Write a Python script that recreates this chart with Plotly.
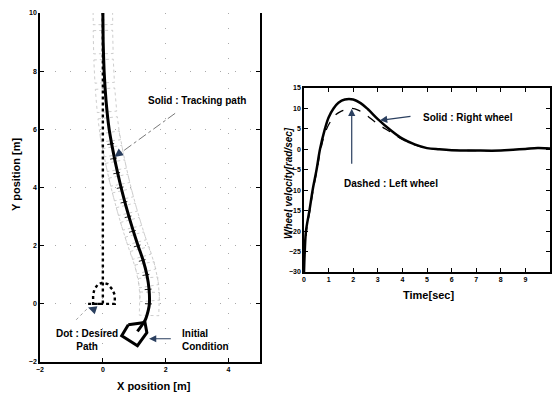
import numpy as np
import plotly.graph_objects as go

# ---------------- data: left plot (trajectory) ----------------
path_x = [1.10, 1.35, 1.45, 1.48, 1.47, 1.40, 1.28, 1.12, 0.97, 0.83, 0.70, 0.58, 0.47, 0.37, 0.28, 0.20, 0.10, 0.04, 0.01, 0.00]
path_y = [-0.95, -0.55, -0.20, 0.00, 0.50, 1.00, 1.50, 2.00, 2.50, 3.00, 3.50, 4.00, 4.50, 5.00, 5.50, 6.00, 7.00, 8.00, 9.00, 10.0]

desired_x = [-0.47, -0.31, 0.38, 0.38, 0.30, 0.15, 0.00, -0.15, -0.27, -0.31, -0.31, 0.00, 0.00]
desired_y = [0.00, 0.00, 0.00, 0.30, 0.50, 0.68, 0.73, 0.68, 0.50, 0.30, 0.00, 0.00, 10.0]

init_x = [0.81, 1.34, 1.40, 1.10, 0.60, 0.81]
init_y = [-0.72, -0.64, -0.99, -1.44, -1.10, -0.72]

# ---------------- data: right plot (wheel velocities) ----------------
t_right = [0, 0.03, 0.08, 0.22, 0.35, 0.51, 0.65, 0.85, 1.0, 1.2, 1.4, 1.66, 2.0, 2.3, 2.6, 3.0, 3.5, 4.0, 4.5, 5.0, 5.5, 6.0, 7.0, 8.0, 8.5, 9.0, 9.5, 10.0]
v_right = [-30, -25, -20, -15, -10, -5, 0, 5, 7.8, 10.0, 11.4, 12.2, 12.2, 11.3, 9.8, 7.4, 4.8, 2.6, 1.2, 0.3, 0.0, -0.2, -0.3, -0.3, -0.1, 0.1, 0.3, 0.2]
t_left = [0, 0.04, 0.10, 0.24, 0.37, 0.53, 0.68, 0.92, 1.26, 1.5, 1.75, 1.93, 2.2, 2.5, 3.0, 3.5, 4.0, 4.5, 5.0, 5.5, 6.0, 7.0, 8.0, 8.5, 9.0, 9.5, 10.0]
v_left = [-30, -25, -20, -15, -10, -5, 0, 5, 8.3, 9.3, 9.8, 10.0, 9.6, 8.5, 6.2, 4.3, 2.4, 1.1, 0.3, 0.0, -0.2, -0.3, -0.3, -0.1, 0.1, 0.3, 0.2]

left_xticks = [-2, 0, 2, 4]
left_yticks = [-2, 0, 2, 4, 6, 8, 10]
right_xticks = list(range(0, 11))
right_yticks = list(range(-30, 16, 5))

# ---------------- derived robot footprints / axle ticks ----------------
px = np.array(path_x)
py = np.array(path_y)
dx = np.gradient(px)
dy = np.gradient(py)
nrm = np.hypot(dx, dy)
ux, uy = dx / nrm, dy / nrm          # heading
vx, vy = -uy, ux                      # perpendicular (left side)
half_w, half_l = 0.31, 0.40
rect_x, rect_y, tick_x, tick_y = [], [], [], []
for i in range(3, len(px)):
    cx, cy = px[i], py[i]
    corners = [(+half_l, +half_w), (+half_l, -half_w), (-half_l, -half_w), (-half_l, +half_w), (+half_l, +half_w)]
    for a, b in corners:
        rect_x.append(cx + a * ux[i] + b * vx[i])
        rect_y.append(cy + a * uy[i] + b * vy[i])
    rect_x.append(None)
    rect_y.append(None)
for i in range(3, len(px) - 5):
    cx, cy = px[i], py[i]
    tick_x += [cx + 0.14 * vx[i], cx - 0.08 * vx[i], None]
    tick_y += [cy + 0.14 * vy[i], cy - 0.08 * vy[i], None]

FONT = "Liberation Sans, Arial, sans-serif"
fig = go.Figure()

# left plot traces
fig.add_trace(go.Scatter(x=rect_x, y=rect_y, mode="lines", line=dict(color="#b8b8b8", width=0.7, dash="dot"),
                         xaxis="x", yaxis="y", hoverinfo="skip"))
fig.add_trace(go.Scatter(x=desired_x, y=desired_y, mode="lines", line=dict(color="black", width=2.4, dash="dot"),
                         xaxis="x", yaxis="y"))
fig.add_trace(go.Scatter(x=tick_x, y=tick_y, mode="lines", line=dict(color="#222", width=1.0),
                         xaxis="x", yaxis="y", hoverinfo="skip"))
fig.add_trace(go.Scatter(x=path_x, y=path_y, mode="lines", line=dict(color="black", width=3, shape="spline", smoothing=0.6),
                         xaxis="x", yaxis="y"))
fig.add_trace(go.Scatter(x=init_x, y=init_y, mode="lines", line=dict(color="black", width=3),
                         xaxis="x", yaxis="y"))
# leader lines (dashed)
fig.add_trace(go.Scatter(x=[2.30, 0.45], y=[6.55, 5.10], mode="lines", line=dict(color="#555", width=0.8, dash="dashdot"),
                         xaxis="x", yaxis="y"))
fig.add_trace(go.Scatter(x=[-0.85, -0.50], y=[-0.55, -0.17], mode="lines", line=dict(color="#888", width=0.8, dash="dot"),
                         xaxis="x", yaxis="y"))

# right plot traces
fig.add_trace(go.Scatter(x=t_left, y=v_left, mode="lines", line=dict(color="black", width=1.3, dash="dash", shape="spline"),
                         xaxis="x2", yaxis="y2"))
fig.add_trace(go.Scatter(x=t_right, y=v_right, mode="lines", line=dict(color="black", width=2.5, shape="spline"),
                         xaxis="x2", yaxis="y2"))

axis_common = dict(showline=True, linecolor="black", linewidth=1.5, ticks="inside", ticklen=4,
                   tickcolor="black", zeroline=False, showgrid=False,
                   tickfont=dict(family=FONT, size=7, color="black", weight="bold"),
                   automargin=False)

fig.update_layout(
    width=552, height=395, margin=dict(l=0, r=0, t=0, b=0),
    paper_bgcolor="white", plot_bgcolor="white", showlegend=False,
    xaxis=dict(axis_common, domain=[40 / 552, 260 / 552], range=[-2, 5], tickvals=left_xticks,
               anchor="y", mirror=False, showgrid=True, gridcolor="#aaa", gridwidth=1, griddash="1px,14px"),
    yaxis=dict(axis_common, domain=[1 - 362 / 395, 1 - 13 / 395], range=[-2, 10], tickvals=left_yticks,
               anchor="x", mirror="ticks", showgrid=True, gridcolor="#aaa", gridwidth=1, griddash="1px,14px"),
    xaxis2=dict(axis_common, domain=[304 / 552, 550 / 552], range=[0, 10], tickvals=right_xticks,
                anchor="y2", mirror="ticks"),
    yaxis2=dict(axis_common, domain=[1 - 272 / 395, 1 - 88 / 395], range=[-30, 15], tickvals=right_yticks,
                anchor="x2", mirror="ticks"),
)

ann_font = dict(family=FONT, size=10, color="black", weight="bold")
title_font = dict(family=FONT, size=11, color="black", weight="bold")
P = dict(xref="paper", yref="paper", showarrow=False, xanchor="center", yanchor="middle")
annotations = [
    # axis titles
    dict(P, text="X position [m]", x=154 / 552, y=1 - 386 / 395, font=title_font),
    dict(P, text="Y position [m]", x=16 / 552, y=1 - 175 / 395, textangle=-90, font=title_font),
    dict(P, text="Time[sec]", x=428 / 552, y=1 - 295 / 395, font=title_font),
    dict(P, text="Wheel velocity[rad/sec]", x=288 / 552, y=1 - 183 / 395, textangle=-90,
         font=dict(family=FONT, size=10, color="black", weight="bold", style="italic")),
    # left plot labels
    dict(text="Solid : Tracking path", x=2.98, y=6.98, xref="x", yref="y", showarrow=False, font=ann_font),
    dict(x=0.37, y=5.05, ax=8, ay=-6, xref="x", yref="y", showarrow=True, arrowhead=2, arrowsize=1.4,
         arrowwidth=1.2, text=""),
    dict(text="Dot : Desired<br>Path", x=-0.52, y=-1.24, xref="x", yref="y", showarrow=False, font=ann_font),
    dict(x=-0.47, y=-0.13, ax=6, ay=2, xref="x", yref="y", showarrow=True, arrowhead=2, arrowsize=1.4,
         arrowwidth=1.2, text=""),
    dict(text="Initial<br>Condition", x=2.46, y=-1.24, xref="x", yref="y", xanchor="left", align="left",
         showarrow=False, font=ann_font),
    dict(x=1.47, y=-1.2, ax=2.21, ay=-1.2, axref="x", ayref="y", xref="x", yref="y", showarrow=True,
         arrowhead=2, arrowsize=1.2, arrowwidth=1.2, text=""),
    # right plot labels
    dict(text="Solid : Right wheel", x=6.65, y=7.9, xref="x2", yref="y2", showarrow=False, font=ann_font),
    dict(x=3.09, y=7.1, ax=4.39, ay=8.1, axref="x2", ayref="y2", xref="x2", yref="y2", showarrow=True,
         arrowhead=2, arrowsize=1.2, arrowwidth=1.2, text=""),
    dict(text="Dashed : Left wheel", x=3.54, y=-8.3, xref="x2", yref="y2", showarrow=False, font=ann_font),
    dict(x=1.94, y=9.9, ax=1.94, ay=-3.9, axref="x2", ayref="y2", xref="x2", yref="y2", showarrow=True,
         arrowhead=2, arrowsize=1.2, arrowwidth=1.2, text=""),
]
fig.update_layout(annotations=annotations)

fig.write_html("out.html")
